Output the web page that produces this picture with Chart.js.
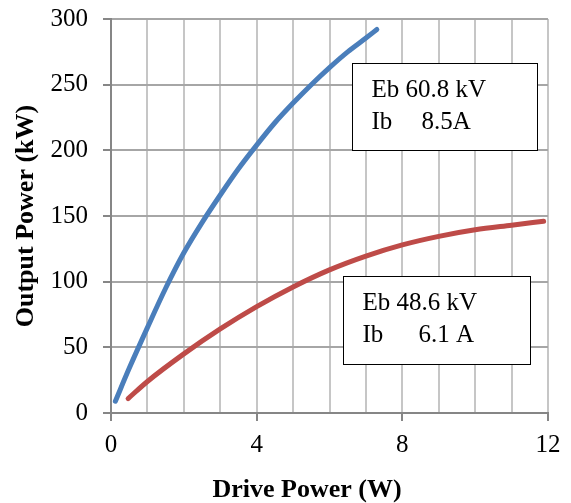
<!DOCTYPE html>
<html>
<head>
<meta charset="utf-8">
<script src="https://cdn.jsdelivr.net/npm/chart.js@4"></script>
<style>
  html, body { margin: 0; padding: 0; background: #fff; }
  #wrap { width: 571px; height: 503px; }
</style>
</head>
<body>
<div id="wrap"><canvas id="powerChart" width="571" height="503"></canvas></div>
<script>
const beamAX = [0.12, 0.5, 1, 1.5, 2, 2.5, 3, 3.5, 4, 4.5, 5, 5.5, 6, 6.5, 7, 7.3];
const beamAY = [9, 34, 65, 95, 122, 145, 166, 186, 204, 221, 236, 250, 263, 275, 285.5, 292];
const beamBX = [0.47, 1, 2, 3, 4, 5, 6, 7, 8, 9, 10, 11, 11.88];
const beamBY = [11, 24, 45, 64, 81, 96, 109, 119.5, 128, 134.5, 139.5, 143, 146];

const xTicksLabelled = [0, 4, 8, 12];
const yTicks = [0, 50, 100, 150, 200, 250, 300];

// note boxes, corners in data units
const noteBoxes = [
    { x0: 6.61, x1: 11.70, y0: 266.8, y1: 200.4, lines: [["Eb 60.8 kV"], ["Ib", "8.5A"]], valueShift: 50 },
    { x0: 6.38, x1: 11.50, y0: 104.5, y1: 37.0, lines: [["Eb 48.6 kV"], ["Ib", "6.1 A"]], valueShift: 56 }
];

const serif = '"Liberation Serif", "Times New Roman", serif';

const toPoints = (xs, ys) => xs.map((x, i) => ({ x: x, y: ys[i] }));

const notesPlugin = {
    id: 'notes',
    afterDraw(chart) {
        const ctx = chart.ctx;
        const xs = chart.scales.x, ys = chart.scales.y;
        ctx.save();
        noteBoxes.forEach(b => {
            const left = Math.round(xs.getPixelForValue(b.x0)) + 0.5;
            const right = Math.round(xs.getPixelForValue(b.x1)) + 0.5;
            const top = Math.round(ys.getPixelForValue(b.y0)) + 0.5;
            const bottom = Math.round(ys.getPixelForValue(b.y1)) + 0.5;
            ctx.fillStyle = '#fff';
            ctx.fillRect(left, top, right - left, bottom - top);
            ctx.strokeStyle = '#000';
            ctx.lineWidth = 1;
            ctx.strokeRect(left, top, right - left, bottom - top);
            ctx.fillStyle = '#000';
            ctx.font = '25px ' + serif;
            ctx.textBaseline = 'middle';
            ctx.textAlign = 'left';
            b.lines.forEach((parts, i) => {
                const ty = top + 27 + i * 31.5;
                ctx.fillText(parts[0], left + 19, ty);
                if (parts[1]) ctx.fillText(parts[1], left + 19 + b.valueShift, ty);
            });
        });
        // x axis title
        ctx.font = 'bold 26px ' + serif;
        ctx.textAlign = 'center';
        ctx.fillText('Drive Power (W)', chart.chartArea.left + 196, 490);
        ctx.restore();
    }
};

new Chart(document.getElementById('powerChart'), {
    type: 'scatter',
    data: {
        datasets: [
            {
                label: 'Eb 60.8 kV',
                data: toPoints(beamAX, beamAY),
                showLine: true,
                borderColor: '#4a7ebb',
                borderWidth: 5,
                borderCapStyle: 'round',
                borderJoinStyle: 'round',
                cubicInterpolationMode: 'monotone',
                pointRadius: 0
            },
            {
                label: 'Eb 48.6 kV',
                data: toPoints(beamBX, beamBY),
                showLine: true,
                borderColor: '#be4b48',
                borderWidth: 5,
                borderCapStyle: 'round',
                borderJoinStyle: 'round',
                cubicInterpolationMode: 'monotone',
                pointRadius: 0
            }
        ]
    },
    options: {
        responsive: false,
        animation: false,
        layout: { padding: { top: 19, right: 23, left: 0, bottom: 0 } },
        plugins: {
            legend: { display: false },
            tooltip: { enabled: false }
        },
        scales: {
            x: {
                type: 'linear',
                min: 0,
                max: 12,
                afterFit: s => { s.height = 90; },
                ticks: {
                    stepSize: 1,
                    autoSkip: false,
                    maxRotation: 0,
                    padding: 9,
                    color: '#000',
                    font: { family: serif, size: 25 },
                    callback: v => xTicksLabelled.includes(v) ? String(v) : ''
                },
                grid: {
                    color: '#c6c6c6',
                    lineWidth: 2,
                    tickLength: 8,
                    tickColor: c => xTicksLabelled.includes(c.tick && c.tick.value) ? '#868686' : 'rgba(0,0,0,0)'
                },
                border: { color: '#868686', width: 2 }
            },
            y: {
                min: 0,
                max: 300,
                // fixed box; drop the label overhang so the top padding decides
                afterFit: s => { s.width = 111; s.paddingTop = 0; s.paddingBottom = 0; },
                afterBuildTicks: s => { s.ticks = yTicks.map(v => ({ value: v })); },
                ticks: {
                    padding: 15,
                    color: '#000',
                    font: { family: serif, size: 25 }
                },
                grid: {
                    color: '#a6a6a6',
                    lineWidth: 2,
                    tickLength: 8,
                    tickColor: '#868686'
                },
                border: { color: '#868686', width: 2 },
                title: {
                    display: true,
                    text: 'Output Power (kW)',
                    color: '#000',
                    font: { family: serif, size: 26, weight: 'bold', lineHeight: 1 },
                    padding: { top: 13, bottom: 0 }
                }
            }
        }
    },
    plugins: [notesPlugin]
});
</script>
</body>
</html>
